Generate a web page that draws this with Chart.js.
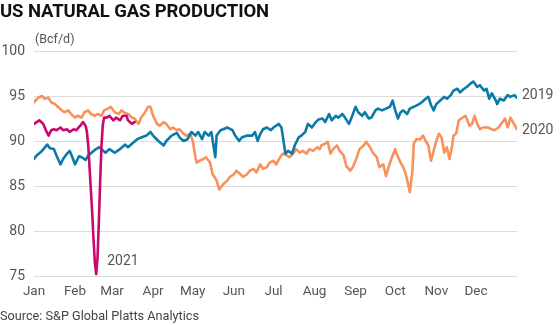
<!DOCTYPE html>
<html lang="en">
<head>
    <meta charset="UTF-8">
    <title>US Natural Gas Production</title>
    <script src="https://cdn.jsdelivr.net/npm/chart.js"></script>
    <style>
        body { margin: 0; background: #fff; }
        #wrap { position: relative; width: 560px; height: 325px; font-family: Roboto, "Noto Sans", sans-serif; }
        #chartBox { position: absolute; left: 0; top: 0; width: 560px; height: 325px; }
        #title { position: absolute; left: 0; top: 0; font-weight: 700; font-size: 18.5px; color: #111; letter-spacing: -0.1px; }
        #unit { position: absolute; left: 35px; top: 31px; font-size: 12.5px; color: #555; }
        #source { position: absolute; left: 0; top: 308px; font-size: 12.7px; color: #444; }
    </style>
</head>
<body>
<div id="wrap">
    <div id="chartBox"><canvas id="gasChart"></canvas></div>
    <div id="title">US NATURAL GAS PRODUCTION</div>
    <div id="unit">(Bcf/d)</div>
    <div id="source">Source: S&amp;P Global Platts Analytics</div>
</div>

<script>
    // month tick labels, placed at day-of-year of month start
    const monthNames = ['Jan', 'Feb', 'Mar', 'Apr', 'May', 'Jun', 'Jul', 'Aug', 'Sep', 'Oct', 'Nov', 'Dec'];
    const monthStarts = [0, 31, 59, 90, 120, 151, 181, 212, 243, 273, 304, 334];
    const yTicks = [75, 80, 85, 90, 95, 100];

    // 2019 (day of year, Bcf/d)
    const days2019 = [0,2,6,10,12,15,17,20,22,25,27,29,31,34,36,39,41,45,49,51,54,57,61,65,69,71,74,78,81,85,88,90,94,98,100,104,108,110,113,116,119,122,124,127,129,132,134,137,138,141,143,146,150,152,155,157,161,165,167,169,171,173,176,179,181,185,187,190,192,195,197,200,202,205,207,210,213,215,218,220,223,225,228,230,233,235,238,240,243,245,248,250,253,255,258,260,263,266,269,271,273,275,277,279,282,284,287,291,293,296,298,300,302,304,307,310,312,315,317,320,322,325,327,330,332,335,337,340,342,344,346,349,350,352,355,358,360,363,365];
    const vals2019 = [88.0,88.4,88.9,89.6,89.2,89.1,88.4,87.4,88.0,88.6,88.9,88.2,87.4,88.3,88.2,87.9,88.4,88.9,89.3,89.1,88.7,89.1,88.7,89.1,89.6,89.3,89.7,90.2,90.4,90.6,91.0,90.6,90.0,89.5,90.0,90.6,90.9,90.4,90.0,90.2,91.0,90.6,91.0,90.2,91.0,90.6,91.0,88.2,90.6,91.2,91.3,91.5,91.2,90.6,90.0,90.4,90.6,90.6,91.0,90.0,90.8,91.3,91.5,91.2,91.5,91.9,91.5,88.6,88.9,88.6,89.5,90.4,90.6,91.0,91.9,91.5,92.1,92.4,92.5,92.1,93.0,92.3,92.8,92.6,93.0,92.6,91.9,92.6,93.8,93.2,92.8,93.2,92.5,92.6,93.4,93.6,93.4,93.6,93.8,94.5,93.4,92.5,93.2,93.4,93.0,93.6,93.8,94.1,94.3,94.7,94.9,94.0,93.4,94.1,94.5,94.9,94.7,95.1,95.6,95.8,95.4,95.8,96.0,96.4,96.6,96.0,96.2,95.6,95.8,94.7,95.3,94.5,94.1,94.7,94.5,95.1,94.9,95.1,94.8];

    // 2020
    const days2020 = [0,3,6,8,11,13,16,18,21,23,26,28,31,33,36,38,41,43,46,48,51,53,56,58,61,64,66,69,71,74,76,79,81,84,86,88,90,93,95,98,100,103,105,108,110,113,115,118,120,122,123,125,128,130,133,135,138,140,143,146,148,151,153,156,158,161,163,166,168,171,173,176,178,181,183,186,188,191,193,196,198,201,203,206,208,211,214,216,217,220,222,224,226,229,231,234,236,239,241,244,246,249,251,254,256,259,261,264,266,268,270,273,274,277,279,281,283,284,286,287,289,292,294,296,298,300,302,304,306,308,310,312,314,316,317,319,321,323,326,327,329,331,333,335,337,339,343,346,348,351,353,356,358,360,362,365];
    const vals2020 = [94.3,94.8,95.0,94.7,94.8,94.3,94.1,93.8,93.4,93.2,93.4,93.0,92.6,92.8,92.6,93.2,93.4,93.0,92.8,93.0,92.8,93.4,93.6,93.8,93.2,93.0,93.4,93.1,93.0,92.6,92.5,91.9,92.6,93.2,93.8,93.8,92.8,91.9,91.7,92.1,91.9,91.3,91.5,91.2,91.3,90.8,90.6,90.8,90.0,88.2,87.6,87.8,88.0,88.2,87.6,86.3,85.6,84.6,85.2,85.6,86.0,86.3,86.7,86.3,86.0,86.3,86.7,86.9,86.5,87.4,86.9,87.1,87.6,87.8,87.4,88.2,88.6,88.4,88.2,88.6,89.1,88.7,88.9,88.6,89.1,88.9,89.3,89.1,89.5,89.7,89.9,88.6,89.1,89.5,88.9,88.4,87.2,86.7,87.1,88.2,89.1,89.5,89.9,89.3,88.7,88.2,87.1,87.4,86.1,87.1,88.0,89.1,88.6,87.6,87.1,86.3,85.0,84.3,86.7,89.7,90.2,90.2,90.6,90.0,89.5,87.8,88.9,90.0,90.8,90.4,88.7,89.3,88.0,89.5,90.6,90.8,92.3,92.5,92.8,92.5,91.7,91.9,92.8,91.9,91.3,91.5,91.5,91.3,91.2,91.5,91.9,92.5,91.5,92.6,92.1,91.3];

    // 2021 (to mid-March)
    const days2021 = [0,2,4,7,9,11,13,15,17,20,22,25,27,30,32,35,37,39,40,41,42,43,44,45,46,47,48,49,50,51,52,53,55,57,60,62,65,67,70,71,74,76];
    const vals2021 = [91.9,92.1,92.3,91.9,91.2,90.6,91.2,91.3,91.2,91.5,91.2,91.3,91.0,91.3,91.2,91.7,92.1,91.7,91.0,89.5,87.0,84.5,82.0,79.0,76.5,75.2,77.0,81.0,85.5,89.5,91.8,92.6,92.6,92.8,92.3,92.6,92.3,92.8,92.8,92.3,91.9,92.1];

    const toPoints = (days, vals) => days.map((d, i) => ({ x: d, y: vals[i] }));

    // writes the year next to a point of its own line
    const yearLabels = {
        id: 'yearLabels',
        afterDatasetsDraw(chart) {
            const ctx = chart.ctx;
            const xs = chart.scales.x, ys = chart.scales.y;
            ctx.save();
            ctx.font = '14px Roboto, "Noto Sans", sans-serif';
            ctx.fillStyle = '#555';
            ctx.textAlign = 'left';
            ctx.textBaseline = 'middle';
            chart.data.datasets.forEach(ds => {
                const p = ds.data[ds.tag.at];
                ctx.fillText(ds.label, xs.getPixelForValue(p.x) + ds.tag.dx, ys.getPixelForValue(p.y) + ds.tag.dy);
            });
            ctx.restore();
        }
    };

    const line = (label, color, points, tag) => ({
        label: label,
        data: points,
        borderColor: color,
        borderWidth: 2.6,
        borderJoinStyle: 'round',
        borderCapStyle: 'round',
        pointRadius: 0,
        tension: 0,
        tag: tag
    });

    new Chart(document.getElementById('gasChart'), {
        type: 'line',
        data: {
            datasets: [
                line('2021', '#c8086f', toPoints(days2021, vals2021), { at: 25, dx: 11, dy: -13 }),
                line('2019', '#0a7aa8', toPoints(days2019, vals2019), { at: days2019.length - 1, dx: 5, dy: -2 }),
                line('2020', '#f8915c', toPoints(days2020, vals2020), { at: days2020.length - 1, dx: 5, dy: 1 })
            ]
        },
        options: {
            responsive: true,
            maintainAspectRatio: false,
            animation: false,
            layout: { padding: { top: 51, right: 43, bottom: 21, left: 0 } },
            plugins: { legend: { display: false }, tooltip: { enabled: false } },
            scales: {
                x: {
                    type: 'linear',
                    min: 0,
                    max: 365,
                    afterBuildTicks: s => { s.ticks = monthStarts.map(v => ({ value: v })); },
                    afterFit: s => { s.height = 28; },
                    grid: { display: false, drawTicks: false },
                    border: { display: false },
                    ticks: {
                        autoSkip: false,
                        maxRotation: 0,
                        padding: 8,
                        color: '#555',
                        font: { family: 'Roboto, "Noto Sans", sans-serif', size: 13.5 },
                        callback: v => monthNames[monthStarts.indexOf(v)]
                    }
                },
                y: {
                    min: 75,
                    max: 100,
                    afterBuildTicks: s => { s.ticks = yTicks.map(v => ({ value: v })); },
                    afterFit: s => { s.width = 34; },
                    grid: { color: '#dcdcdc', lineWidth: 1, drawTicks: false },
                    border: { display: false },
                    ticks: {
                        padding: 9,
                        color: '#555',
                        font: { family: 'Roboto, "Noto Sans", sans-serif', size: 14 }
                    }
                }
            }
        },
        plugins: [yearLabels]
    });
</script>
</body>
</html>
